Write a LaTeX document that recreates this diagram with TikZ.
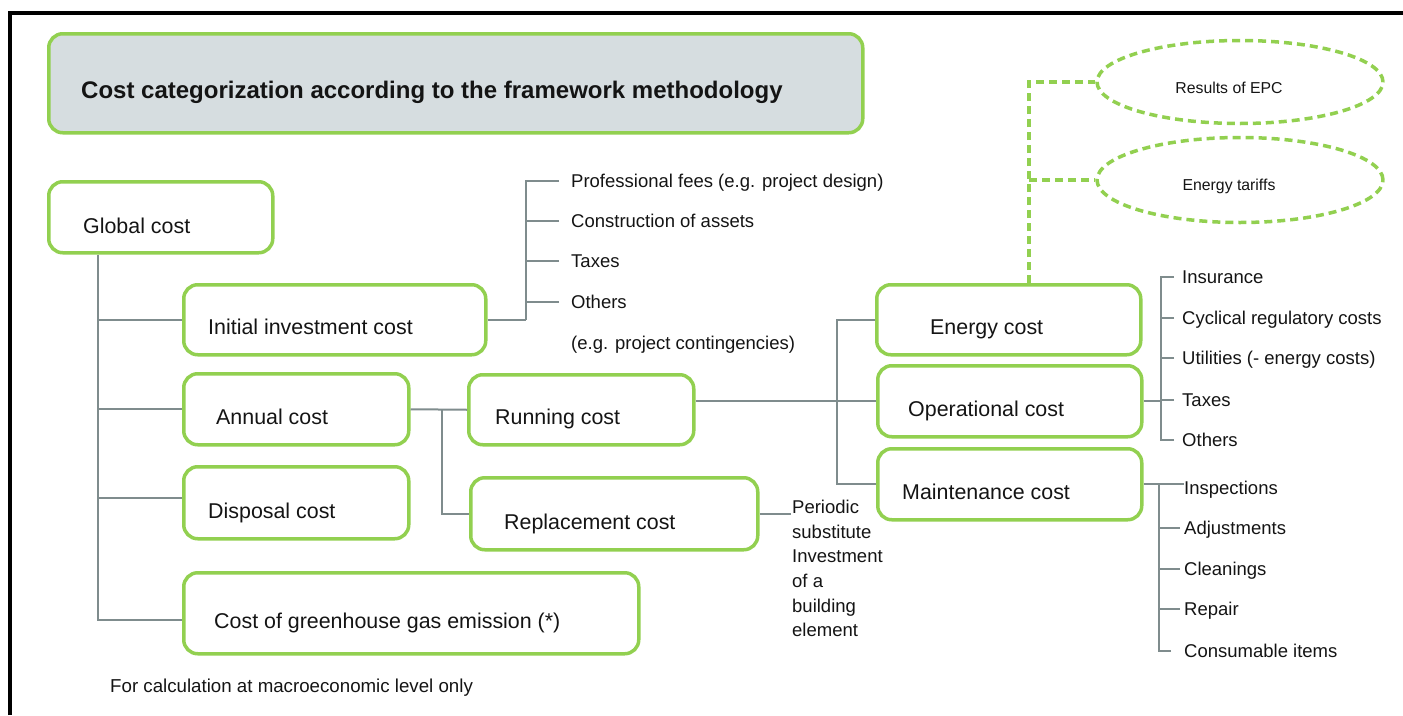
\documentclass[tikz,border=0pt]{standalone}
\usepackage{fontspec}
\setmainfont{Liberation Sans}
\usetikzlibrary{calc,shapes.geometric}
\definecolor{grn}{RGB}{146,208,80}
\definecolor{ttl}{RGB}{214,221,224}
\definecolor{lne}{RGB}{127,140,141}
\definecolor{txt}{RGB}{20,20,20}
\begin{document}
\begin{tikzpicture}[x=1pt,y=-1pt,
 box/.style={draw=grn, line width=3.5pt, rounded corners=14pt, inner sep=0pt, anchor=north west},
 lbl/.style={anchor=west, inner sep=0pt, text=txt, font=\fontsize{21.4}{25}\selectfont, text height=15.5pt, text depth=0.2pt},
 item/.style={anchor=west, inner sep=0pt, text=txt, font=\fontsize{18.5}{22}\selectfont, text height=14pt, text depth=0.8pt},
 small/.style={inner sep=0pt, text=txt, font=\fontsize{15.8}{18}\selectfont},
 conn/.style={draw=lne, line width=2pt},
 dsh/.style={draw=grn, line width=3.5pt, dash pattern=on 8pt off 5pt},
 oval/.style={ellipse, draw=grn, line width=3.5pt, dash pattern=on 8pt off 5pt, minimum width=286pt, inner sep=0pt}]
\useasboundingbox (0,0) rectangle (1403,715);
\draw[line width=4pt] (10,715) -- (10,13) -- (1403,13);

% title
\node[box, fill=ttl, minimum width=814pt, minimum height=99pt] (title) at (47,32) {};
\node[lbl, font=\fontsize{24}{28}\selectfont\bfseries, text height=17pt] (titlet) at (81,90) {Cost categorization according to the framework methodology};

% boxes
\node[box, minimum width=224pt, minimum height=71pt] (global) at (47,180) {};
\node[box, minimum width=302pt, minimum height=70pt] (init) at (182,283) {};
\node[box, minimum width=225pt, minimum height=71pt] (annual) at (182,372) {};
\node[box, minimum width=225pt, minimum height=72pt] (disposal) at (182,465) {};
\node[box, minimum width=455pt, minimum height=81pt] (ghg) at (182,571) {};
\node[box, minimum width=225pt, minimum height=70pt] (running) at (467,373) {};
\node[box, minimum width=287pt, minimum height=72pt] (repl) at (469,476) {};
\node[box, minimum width=264pt, minimum height=70pt] (energy) at (875,283) {};
\node[box, minimum width=264pt, minimum height=71pt] (oper) at (876,364) {};
\node[box, minimum width=264pt, minimum height=71pt] (maint) at (876,447) {};

\node[lbl] (globalt) at (83,226) {Global cost};
\node[lbl] (initt) at (208,327) {Initial investment cost};
\node[lbl] (annualt) at (216,417) {Annual cost};
\node[lbl] (disposalt) at (208,511) {Disposal cost};
\node[lbl] (ghgt) at (214,621) {Cost of greenhouse gas emission (*)};
\node[lbl] (runningt) at (495,417) {Running cost};
\node[lbl] (replt) at (504,522) {Replacement cost};
\node[lbl] (energyt) at (930,327) {Energy cost};
\node[lbl] (opert) at (908,409) {Operational cost};
\node[lbl] (maintt) at (902,492) {Maintenance cost};

% ellipses
\node[oval, minimum height=83pt] (epc) at (1240,82) {};
\node[oval, minimum height=85pt] (tar) at (1240,180) {};
\node[small] (epct) at (1229,88) {Results of EPC};
\node[small] (tart) at (1229,186) {Energy tariffs};

% item lists
\node[item] (pf) at (571,181) {Professional fees (e.g. project design)};
\node[item] (ca) at (571,221) {Construction of assets};
\node[item] (tx1) at (571,261) {Taxes};
\node[item] (ot1) at (571,302) {Others};
\node[item] (pc) at (571,343) {(e.g. project contingencies)};

\node[item] (ins) at (1182,277) {Insurance};
\node[item] (cyc) at (1182,318) {Cyclical regulatory costs};
\node[item] (uti) at (1182,358) {Utilities (- energy costs)};
\node[item] (tx2) at (1182,400) {Taxes};
\node[item] (ot2) at (1182,440) {Others};

\node[item] (insp) at (1184,488) {Inspections};
\node[item] (adj) at (1184,528) {Adjustments};
\node[item] (cln) at (1184,569) {Cleanings};
\node[item] (rep) at (1184,609) {Repair};
\node[item] (cons) at (1184,651) {Consumable items};

\node[anchor=north west, inner sep=0pt, text=txt, align=left, font=\fontsize{18.5}{24.6}\selectfont] (periodic) at (792,500) {Periodic\\substitute\\Investment\\of a\\building\\element};

\node[item, font=\fontsize{18.7}{22}\selectfont] (note) at (110,686) {For calculation at macroeconomic level only};

% connectors: global
\coordinate (gx) at ($(global.south west)+(51,0)$);
\draw[conn] (gx) |- ([yshift=-6.5pt]ghg.west);
\draw[conn] (gx |- init.west) -- (init.west);
\draw[conn] (gx |- annual.west) -- (annual.west);
\draw[conn] ([yshift=5pt]disposal.west) -- ++(-84,0);

% initial investment bracket
\draw[conn] (init.east) -- ++(38,0) coordinate (ib);
\foreach \n in {pf,ca,tx1,ot1} \draw[conn] ([xshift=-12pt]\n.west) -| (ib);

% annual -> running / replacement
\draw[conn] (annual.east) -- (running.west);
\draw[conn] ($(annual.east)+(31,0)$) |- (repl.west);
\draw[conn] (repl.east) -- ++(31,0);

% running -> energy / operational / maintenance
\draw[conn] (running.east |- oper.west) -- (oper.west);
\coordinate (rv) at ($(oper.west)+(-39,0)$);
\draw[conn] (energy.west) -| (rv) |- (maint.west);

% operational list
\draw[conn] (oper.east) -- ++(17,0) coordinate (ob);
\foreach \n in {ins,cyc,uti,tx2,ot2} \draw[conn] ([xshift=-8pt]\n.west) -| (ob);

% maintenance list
\draw[conn] (maint.east) -- ++(40,0);
\coordinate (mb) at ($(maint.east)+(15,0)$);
\foreach \n in {adj,cln,rep} \draw[conn] ([xshift=-4pt]\n.west) -| (mb);
\draw[conn] ([xshift=-13pt]cons.west) -| (mb);

% energy dashed links
\coordinate (ev) at ($(energy.north west)+(154,0)$);
\draw[dsh] (ev) |- (epc.west);
\draw[dsh] (ev |- tar.west) -- (tar.west);
\end{tikzpicture}
\end{document}
